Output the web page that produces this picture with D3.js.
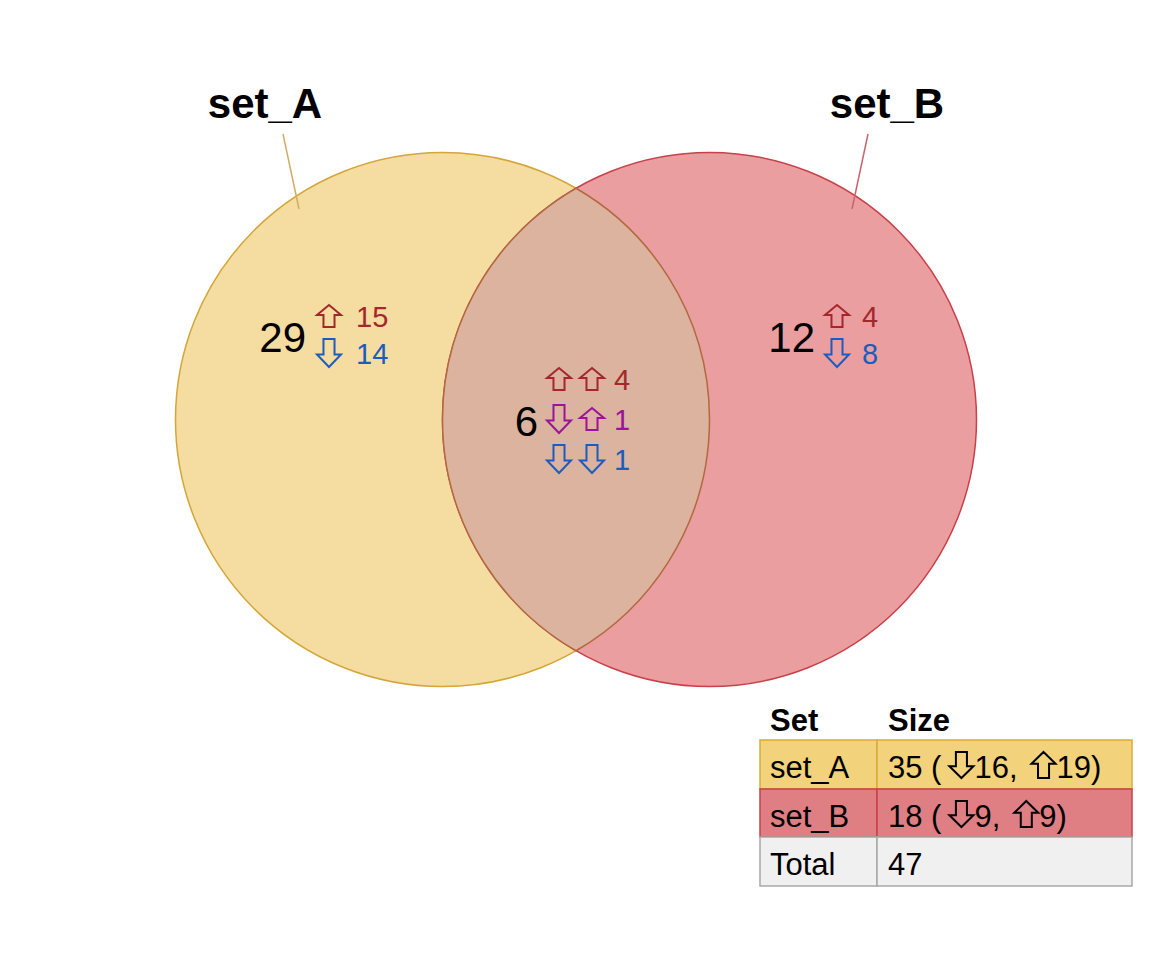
<!DOCTYPE html>
<html>
<head>
<meta charset="utf-8">
<script src="https://cdn.jsdelivr.net/npm/d3@7"></script>
<style>
  body { margin: 0; background: #fff; }
  text { font-family: "Liberation Sans", Arial, sans-serif; }
</style>
</head>
<body>
<div id="chart"></div>
<script>
// sets
var setNames = ["set_A", "set_B"];
var setTotals = [35, 18];
var setDown = [16, 9];
var setUp = [19, 9];
var grandTotal = 47;

// regions of the venn
var regionNames = ["set_A only", "set_A & set_B", "set_B only"];
var regionTotals = [29, 6, 12];
var regionArrows = [[["up"], ["down"]], [["up", "up"], ["down", "up"], ["down", "down"]], [["up"], ["down"]]];
var regionCounts = [[15, 14], [4, 1, 1], [4, 8]];
var regionKinds = [["up", "down"], ["up", "mixed", "down"], ["up", "down"]];

var W = 1152, H = 960;
var svg = d3.select("#chart").append("svg")
    .attr("width", W)
    .attr("height", H);

// venn coordinates: circle centres at 0 and 1, radius 1
var x = d3.scaleLinear().domain([0, 1]).range([442.5, 709.5]);
var y = d3.scaleLinear().domain([0, 1]).range([419.5, 152.5]);
var rpx = x(1) - x(0);

var fills = ["#f5dca0", "#eb9ea0"];
var strokes = ["#d4a63a", "#c8404a"];
var kindColor = {up: "#a3282c", down: "#1d5cbf", mixed: "#9a1499"};

// outline arrow like the unicode white arrows, top-left at (x0, y0)
function arrowPath(dir, x0, y0, w, h) {
    var hh = h * 0.45, sw = w * 0.46, sx = x0 + (w - sw) / 2, m = x0 + w / 2;
    var p;
    if (dir == "up") {
        p = [[m, y0], [x0 + w, y0 + hh], [sx + sw, y0 + hh], [sx + sw, y0 + h],
             [sx, y0 + h], [sx, y0 + hh], [x0, y0 + hh]];
    } else {
        p = [[sx, y0], [sx + sw, y0], [sx + sw, y0 + h - hh], [x0 + w, y0 + h - hh],
             [m, y0 + h], [x0, y0 + h - hh], [sx, y0 + h - hh]];
    }
    return "M" + p.join("L") + "Z";
}

var circles = setNames.map(function(d, i) { return {name: d, cx: i, cy: 0}; });

svg.selectAll(".set")
    .data(circles)
    .enter().append("circle")
    .attr("class", "set")
    .attr("cx", function(d) { return x(d.cx); })
    .attr("cy", function(d) { return y(d.cy); })
    .attr("r", rpx)
    .style("fill", function(d, i) { return fills[i]; })
    .style("stroke", function(d, i) { return strokes[i]; })
    .style("stroke-width", 1.5);

// lens (intersection)
var hy = Math.sqrt(1 - 0.25);
var p1 = [x(0.5), y(hy)], p2 = [x(0.5), y(-hy)];
var lens = "M" + p1 + " A" + rpx + "," + rpx + " 0 0,1 " + p2 +
           " A" + rpx + "," + rpx + " 0 0,1 " + p1 + "Z";
svg.append("path")
    .attr("d", lens)
    .style("fill", "#dbb39e")
    .style("stroke", "#b3683f")
    .style("stroke-width", 1.5);

// set titles with leader lines
var titlePos = [{tx: 265, lx: [283, 299]}, {tx: 887, lx: [868, 852]}];
var leadColor = ["#d2ad62", "#c8646c"];
titlePos.forEach(function(p, i) {
    svg.append("line")
        .attr("x1", p.lx[0]).attr("y1", 134)
        .attr("x2", p.lx[1]).attr("y2", 209)
        .style("stroke", leadColor[i])
        .style("stroke-width", 1.5);
    svg.append("text")
        .attr("x", p.tx).attr("y", 118)
        .attr("text-anchor", "middle")
        .style("font-weight", "bold")
        .style("font-size", "42px")
        .text(setNames[i]);
});

// region labels
var regionPos = [
    {x: 306, y: 352, ax: 316, nx: 356, row0: 327, step: 37},
    {x: 538, y: 436, ax: 546, nx: 614, row0: 390, step: 40},
    {x: 815, y: 352, ax: 824, nx: 862, row0: 327, step: 37}
];
regionNames.forEach(function(name, i) {
    var p = regionPos[i];
    var g = svg.append("g").attr("class", "region");
    g.append("text")
        .attr("x", p.x).attr("y", p.y)
        .attr("text-anchor", "end")
        .style("font-size", "42px")
        .text(regionTotals[i]);
    regionArrows[i].forEach(function(arr, j) {
        var col = kindColor[regionKinds[i][j]];
        var base = p.row0 + j * p.step;
        arr.forEach(function(dir, k) {
            var h = dir == "up" ? 22 : 28;
            g.append("path")
                .attr("d", arrowPath(dir, p.ax + k * 33 + 1, base - (dir == "up" ? 22 : 25), 24, h))
                .style("fill", "none")
                .style("stroke", col)
                .style("stroke-width", 2);
        });
        g.append("text")
            .attr("x", p.nx)
            .attr("y", base)
            .style("font-size", "29px")
            .style("fill", col)
            .text(regionCounts[i][j]);
    });
});

// table
var colX = [760, 877, 1132];
var rowY = [740, 789, 837, 886];
var rowFill = ["#f2d27a", "#df7f84", "#f0f0f0"];
var rowStroke = ["#d9ab3a", "#c8404a", "#a8a8a8"];

svg.append("text").attr("x", 770).attr("y", 731)
    .style("font-weight", "bold").style("font-size", "31px").text("Set");
svg.append("text").attr("x", 888).attr("y", 731)
    .style("font-weight", "bold").style("font-size", "31px").text("Size");

var rows = setNames.map(function(d, i) {
    return {name: d, size: [setTotals[i] + " (", ["down", setDown[i] + ","], ["up", setUp[i] + ")"]]};
});
rows.push({name: "Total", size: [String(grandTotal)]});

rows.forEach(function(r, i) {
    [0, 1].forEach(function(c) {
        svg.append("rect")
            .attr("x", colX[c]).attr("y", rowY[i])
            .attr("width", colX[c + 1] - colX[c])
            .attr("height", rowY[i + 1] - rowY[i])
            .style("fill", rowFill[i])
            .style("stroke", rowStroke[i])
            .style("stroke-width", 1.5);
    });
    var ty = rowY[i] + 38;
    svg.append("text").attr("x", 770).attr("y", ty)
        .style("font-size", "31px").text(r.name);
    var cx = 888;
    r.size.forEach(function(s, k) {
        var str = s;
        if (Array.isArray(s)) {
            // space before the second arrow
            if (k > 1) cx += 6;
            svg.append("path")
                .attr("d", arrowPath(s[0], cx + 8, ty - 26, 24, 26))
                .style("fill", "none")
                .style("stroke", "#000")
                .style("stroke-width", 2);
            cx += 33;
            str = s[1];
        }
        var t = svg.append("text").attr("x", cx).attr("y", ty)
            .style("font-size", "31px")
            .style("white-space", "pre")
            .text(str);
        cx += t.node().getComputedTextLength();
    });
});
</script>
</body>
</html>
